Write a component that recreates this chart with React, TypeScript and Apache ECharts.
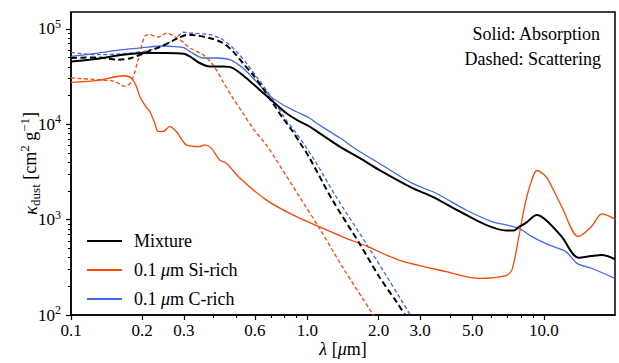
import React, { useEffect, useRef } from 'react';
import * as echarts from 'echarts';

// Wavelength grids (micron) and opacities (cm^2 g^-1)
const mixAbsLam = [0.1, 0.13, 0.166, 0.205, 0.25, 0.3, 0.318, 0.35, 0.386, 0.439, 0.484, 0.551, 0.627, 0.714, 0.813, 0.925, 1.02, 1.12, 1.37, 1.66, 2.01, 2.77, 3.37, 4.51, 5.69, 6.91, 7.47, 7.84, 8.4, 9.34, 10.2, 11.9, 14.0, 15.9, 17.6, 20];
const mixAbsKappa = [45500, 48600, 53500, 55700, 55700, 54700, 51300, 43800, 40300, 40300, 38800, 30500, 23000, 17300, 13100, 10700, 9460, 8120, 5830, 4440, 3320, 2150, 1740, 1180, 879, 767, 767, 838, 923, 1120, 993, 664, 399, 416, 426, 384];

const mixScaLam = [0.1, 0.13, 0.158, 0.18, 0.212, 0.241, 0.275, 0.313, 0.34, 0.386, 0.439, 0.484, 0.533, 0.588, 0.648, 0.714, 0.787, 0.867, 0.925, 1.02, 1.275, 1.658, 2.013, 2.397, 2.59, 2.8];
const mixScaKappa = [49400, 50100, 47400, 49400, 58000, 65400, 76900, 86700, 85000, 80000, 71000, 58000, 43800, 33000, 23900, 16600, 11600, 8380, 6530, 4440, 1610, 565, 252, 134, 100, 75];

const siAbsLam = [0.1, 0.13, 0.166, 0.18, 0.189, 0.1955, 0.209, 0.2155, 0.226, 0.2336, 0.245, 0.2614, 0.279, 0.3076, 0.35, 0.368, 0.392, 0.425, 0.454, 0.52, 0.669, 0.867, 1.12, 1.4, 1.77, 2.44, 3.86, 5.32, 6.91, 7.33, 7.84, 8.35, 8.9, 9.34, 10.2, 10.8, 11.9, 14.0, 15.9, 17.6, 20];
const siAbsKappa = [27400, 28800, 32200, 30500, 24900, 19500, 14800, 13600, 10300, 8400, 8380, 9450, 8380, 6080, 5830, 6080, 5610, 4230, 3900, 2700, 1610, 1120, 845, 664, 530, 377, 285, 242, 259, 297, 664, 1490, 2610, 3270, 2830, 2220, 1370, 664, 845, 1150, 1010];

const siScaLam = [0.1, 0.13, 0.153, 0.169, 0.18, 0.1923, 0.205, 0.215, 0.233, 0.254, 0.275, 0.3027, 0.3177, 0.3617, 0.3985, 0.4391, 0.4839, 0.5333, 0.5877, 0.6694, 0.738, 0.925, 1.124, 1.405, 1.88, 2.0];
const siScaKappa = [30500, 29300, 28100, 24900, 28100, 47400, 83000, 87000, 82000, 90000, 83000, 70000, 63000, 53500, 42000, 28100, 18800, 13100, 9100, 6080, 4230, 1740, 812, 321, 104, 81];

const cAbsLam = [0.1, 0.13, 0.166, 0.212, 0.25, 0.275, 0.3, 0.318, 0.362, 0.412, 0.469, 0.533, 0.607, 0.687, 0.787, 0.896, 1.02, 1.12, 1.37, 1.66, 2.01, 2.77, 3.5, 4.69, 6.03, 6.91, 7.84, 8.9, 10.5, 12.4, 13.8, 15.9, 20];
const cAbsKappa = [51300, 55700, 60400, 64400, 66000, 65000, 63500, 58000, 49400, 49400, 47400, 38800, 28100, 20300, 16000, 13600, 11600, 9860, 7200, 5170, 3900, 2410, 1890, 1260, 953, 879, 812, 664, 543, 462, 348, 309, 242];

const cScaLam = [0.1, 0.13, 0.18, 0.219, 0.249, 0.275, 0.3, 0.318, 0.386, 0.439, 0.5, 0.551, 0.607, 0.669, 0.738, 0.813, 0.896, 0.971, 1.07, 1.322, 1.769, 2.149, 2.444, 2.694, 2.9];
const cScaKappa = [56500, 53500, 55700, 60400, 68100, 78000, 92000, 90400, 86700, 76900, 58000, 43800, 31700, 23000, 16000, 11100, 8070, 6080, 4230, 1740, 565, 262, 156, 105, 80];

const xMajorTicks = [0.1, 0.2, 0.3, 0.6, 1.0, 2.0, 3.0, 5.0, 10.0];
const xMinorTicks = [0.4, 0.5, 0.7, 0.8, 0.9, 4, 6, 7, 8, 9];
const yMajorTicks = [100, 1000, 10000, 100000];
const yMinorTicks = [200, 300, 400, 500, 600, 700, 800, 900, 2000, 3000, 4000, 5000, 6000, 7000, 8000, 9000, 20000, 30000, 40000, 50000, 60000, 70000, 80000, 90000];

const legendNames = ['Mixture', '0.1 μm Si-rich', '0.1 μm C-rich'];

const FONT = 'Liberation Serif';
const BLACK = '#000000';
const ORANGE = '#ff4500';
const BLUE = '#4169e1';

const pairs = (l: number[], k: number[]) => l.map((x, i) => [x, k[i]]);

export default function App() {
  const ref = useRef<HTMLDivElement>(null);
  useEffect(() => {
    const chart = echarts.init(ref.current!, null, { renderer: 'svg' });
    const X_MIN = 0.1, X_MAX = 20, Y_MIN = 100, Y_MAX = 150000;
    const line = (name: string, l: number[], k: number[], color: string, width: number, type: any, z: number) => ({
      name, type: 'line', data: pairs(l, k), symbol: 'none', showSymbol: false, smooth: 0.3,
      lineStyle: { color, width, type }, itemStyle: { color }, z, silent: true,
    });
    chart.setOption({
      animation: false,
      backgroundColor: '#ffffff',
      textStyle: { fontFamily: FONT },
      grid: { left: 71, right: 4, top: 12, bottom: 48, show: true, borderColor: BLACK, borderWidth: 1.5, containLabel: false, outerBoundsMode: 'none' },
      xAxis: [
        {
          type: 'log', logBase: 10, min: X_MIN, max: X_MAX, position: 'bottom',
          axisLine: { show: true, lineStyle: { color: BLACK, width: 1.5 } },
          axisTick: { show: true, customValues: xMajorTicks, length: 5, lineStyle: { color: BLACK, width: 1.2 } },
          axisLabel: { customValues: xMajorTicks, formatter: (v: number) => v.toFixed(1), color: BLACK, fontSize: 17, fontFamily: FONT, margin: 7 },
          splitLine: { show: false }, minorTick: { show: false },
          name: '{i|λ} [{i|μ}m]', nameLocation: 'middle', nameGap: 25, nameMoveOverlap: false,
          nameTextStyle: { color: BLACK, fontSize: 18, fontFamily: FONT, rich: { i: { fontStyle: 'italic', fontSize: 18, fontFamily: FONT, color: BLACK } } },
        },
        {
          type: 'log', logBase: 10, min: X_MIN, max: X_MAX, position: 'bottom',
          axisLine: { show: false },
          axisTick: { show: true, customValues: xMinorTicks, length: 3, lineStyle: { color: BLACK, width: 1 } },
          axisLabel: { show: false }, splitLine: { show: false },
        },
      ],
      yAxis: [
        {
          type: 'log', logBase: 10, min: Y_MIN, max: Y_MAX, position: 'left',
          axisLine: { show: true, lineStyle: { color: BLACK, width: 1.5 } },
          axisTick: { show: true, customValues: yMajorTicks, length: 5, lineStyle: { color: BLACK, width: 1.2 } },
          axisLabel: {
            customValues: yMajorTicks,
            formatter: (v: number) => '10{sup|' + Math.round(Math.log10(v)) + '}',
            color: BLACK, fontSize: 17, fontFamily: FONT, margin: 10, lineHeight: 22,
            rich: { sup: { fontSize: 12, fontFamily: FONT, color: BLACK, verticalAlign: 'top', lineHeight: 12 } },
          },
          splitLine: { show: false }, minorTick: { show: false },
          name: '{k|κ}{sub|dust} [cm{sup|2} g{sup|−1}]', nameLocation: 'middle', nameRotate: 90, nameGap: 29, nameMoveOverlap: false,
          nameTextStyle: {
            color: BLACK, fontSize: 18, fontFamily: FONT, lineHeight: 24,
            rich: {
              k: { fontStyle: 'italic', fontSize: 19, fontFamily: FONT, color: BLACK, lineHeight: 24 },
              sub: { fontSize: 13, fontFamily: FONT, color: BLACK, verticalAlign: 'bottom', lineHeight: 13 },
              sup: { fontSize: 13, fontFamily: FONT, color: BLACK, verticalAlign: 'top', lineHeight: 13 },
            },
          },
        },
        {
          type: 'log', logBase: 10, min: Y_MIN, max: Y_MAX, position: 'left',
          axisLine: { show: false },
          axisTick: { show: true, customValues: yMinorTicks, length: 3, lineStyle: { color: BLACK, width: 1 } },
          axisLabel: { show: false }, splitLine: { show: false },
        },
      ],
      legend: {
        data: legendNames, orient: 'vertical', left: 86, top: 232, itemWidth: 35, itemHeight: 14, itemGap: 11, padding: 0,
        selectedMode: false,
        itemStyle: { opacity: 0 },
        formatter: (n: string) => n.replace('μ', '{i|μ}'),
        textStyle: {
          color: BLACK, fontSize: 18, fontFamily: FONT, padding: [0, 0, 0, 7],
          rich: { i: { fontStyle: 'italic', fontSize: 18, fontFamily: FONT, color: BLACK } },
        },
      },
      graphic: [
        { type: 'text', right: 18, top: 25, style: { text: 'Solid: Absorption', fontSize: 18, fontFamily: FONT, fill: BLACK } },
        { type: 'text', right: 18, top: 50, style: { text: 'Dashed: Scattering', fontSize: 18, fontFamily: FONT, fill: BLACK } },
      ],
      series: [
        line(legendNames[0], mixAbsLam, mixAbsKappa, BLACK, 2, 'solid', 5),
        line('Mixture scattering', mixScaLam, mixScaKappa, BLACK, 2, [6, 3.5], 5),
        line(legendNames[1], siAbsLam, siAbsKappa, ORANGE, 1.3, 'solid', 4),
        line('Si-rich scattering', siScaLam, siScaKappa, ORANGE, 1.3, [4, 2.5], 4),
        line(legendNames[2], cAbsLam, cAbsKappa, BLUE, 1.3, 'solid', 3),
        line('C-rich scattering', cScaLam, cScaKappa, BLUE, 1.3, [4, 2.5], 3),
      ],
    });
    return () => chart.dispose();
  }, []);
  return <div ref={ref} style={{ position: 'fixed', left: 0, top: 0, width: 619, height: 363 }} />;
}
